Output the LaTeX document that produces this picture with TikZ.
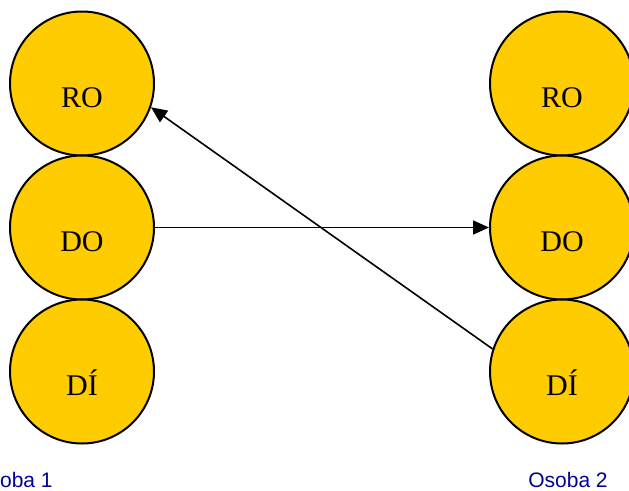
\documentclass[tikz,border=0pt]{standalone}
\usepackage{fontspec}
\setmainfont{Liberation Serif}
\newfontfamily\osobafont{Liberation Sans}
\usetikzlibrary{arrows.meta}
\definecolor{discgold}{RGB}{255,204,0}
\definecolor{osobablue}{RGB}{0,0,153}

\begin{document}
\begin{tikzpicture}[x=1pt, y=-1pt]
  \useasboundingbox (0, 0) rectangle (629, 490);  % Rahmen wie Vorlage.
  \tikzstyle{disc}=[circle, draw, line width=2pt, fill=discgold, minimum size=144pt,
    inner sep=0pt, text height=47pt, text depth=0pt, font=\fontsize{30}{36}\selectfont]
  \tikzstyle{person}=[anchor=base, text=osobablue, font=\osobafont\fontsize{21}{25}\selectfont]
  \tikzstyle{pfeil}=[line width=1.6pt, -{Triangle[length=16pt, width=14pt]}]

  \node[disc] (ro1) at (82, 83.5)  {RO};
  \node[disc] (do1) at (82, 227.5) {DO};
  \node[disc] (di1) at (82, 371.5) {DÍ};
  \node[disc] (ro2) at (562, 83.5)  {RO};
  \node[disc] (do2) at (562, 227.5) {DO};
  \node[disc] (di2) at (562, 371.5) {DÍ};

  \node[person] (os1) at (13, 487)  {Osoba 1};
  \node[person] (os2) at (568, 487) {Osoba 2};

  \draw[pfeil] (do1.east) -- (do2.west);
  \draw[pfeil] (di2.162) -- (ro1.-19);
\end{tikzpicture}
\end{document}
